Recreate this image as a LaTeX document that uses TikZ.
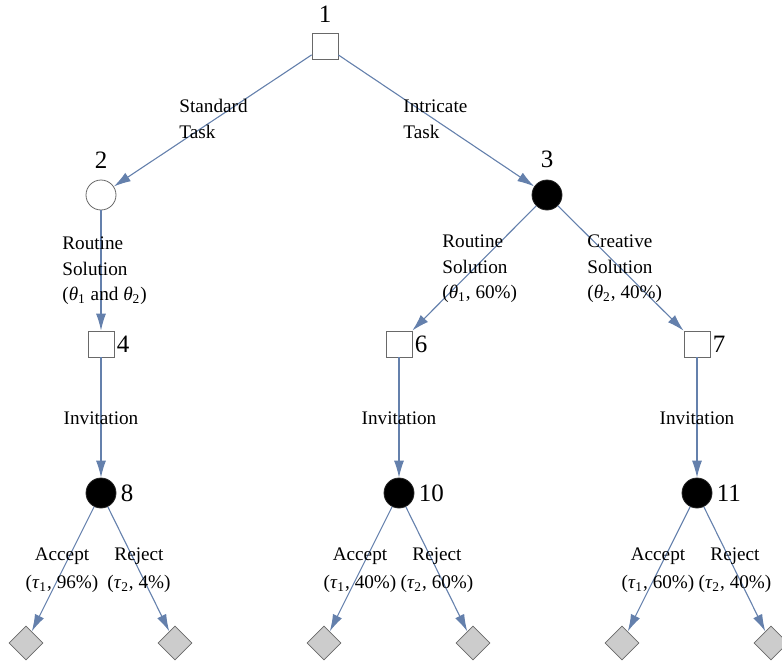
\documentclass[tikz,border=0pt]{standalone}
\usepackage{fontspec}
\setmainfont{Liberation Serif}
\usetikzlibrary{shapes.geometric,arrows.meta,positioning}
\definecolor{edgeblue}{RGB}{100,128,172}
\definecolor{leafgray}{RGB}{204,204,204}
\definecolor{boxgray}{RGB}{105,105,105}
\newcommand{\thsub}[1]{\textit{θ}\textsubscript{#1}}
\newcommand{\tausub}[1]{\textit{τ}\textsubscript{#1}}

\begin{document}
\begin{tikzpicture}[x=0.5pt,y=-0.5pt,
decision/.style={draw=boxgray,fill=white,minimum size=13pt,inner sep=0pt},
chanceopen/.style={circle,draw=boxgray,fill=white,minimum size=15pt,inner sep=0pt},
chance/.style={circle,draw=black!85,fill=black,minimum size=15pt,inner sep=0pt},
leaf/.style={diamond,draw=boxgray,fill=leafgray,minimum size=17pt,inner sep=0pt},
branch/.style={draw=edgeblue,line width=0.55pt,-{Latex[length=8.5pt,width=5pt]}},
num/.style={font=\fontsize{12.5}{14}\selectfont,inner sep=1pt},
lbl/.style={font=\fontsize{9.6}{12.8}\selectfont,align=left,anchor=west,inner sep=0pt},
clbl/.style={font=\fontsize{9.6}{13.8}\selectfont,align=center,inner sep=0pt}
]
\useasboundingbox (0,0) rectangle (782,664);

\node[decision,label={[num,label distance=4pt]above:1}] (n1) at (325,46) {};
\node[chanceopen,label={[num,label distance=4.5pt]above:2}] (n2) at (101,195) {};
\node[chance,label={[num,label distance=4.5pt]above:3}] (n3) at (547,195) {};
\node[decision,label={[num,label distance=0pt]right:4}] (n4) at (101,344) {};
\node[decision,label={[num,label distance=0pt]right:6}] (n6) at (399,344) {};
\node[decision,label={[num,label distance=0pt]right:7}] (n7) at (697,344) {};
\node[chance,label={[num,label distance=1pt]right:8}] (n8) at (101,493) {};
\node[chance,label={[num,label distance=1pt]right:10}] (n10) at (399,493) {};
\node[chance,label={[num,label distance=1pt]right:11}] (n11) at (697,493) {};

\node[leaf] (l1) at (26,643) {};
\node[leaf] (l2) at (175,643) {};
\node[leaf] (l3) at (324,643) {};
\node[leaf] (l4) at (473,643) {};
\node[leaf] (l5) at (622,643) {};
\node[leaf] (l6) at (771,643) {};

\draw[branch] (n1) -- (n2);
\draw[branch] (n1) -- (n3);
\draw[branch] (n2) -- (n4);
\draw[branch] (n3) -- (n6);
\draw[branch] (n3) -- (n7);
\draw[branch] (n4) -- (n8);
\draw[branch] (n6) -- (n10);
\draw[branch] (n7) -- (n11);
\draw[branch] (n8) -- (l1);
\draw[branch] (n8) -- (l2);
\draw[branch] (n10) -- (l3);
\draw[branch] (n10) -- (l4);
\draw[branch] (n11) -- (l5);
\draw[branch] (n11) -- (l6);

\node[lbl] (t12) at (179,119) {Standard\\Task};
\node[lbl] (t13) at (403,119) {Intricate\\Task};
\node[lbl] (t24) at (62,271) {Routine\\Solution\\(\thsub{1} and \thsub{2})};
\node[lbl] (t36) at (442,269) {Routine\\Solution\\(\thsub{1}, 60\%)};
\node[lbl] (t37) at (587,269) {Creative\\Solution\\(\thsub{2}, 40\%)};

\node[clbl] (i4) at (101,418) {Invitation};
\node[clbl] (i6) at (399,418) {Invitation};
\node[clbl] (i7) at (697,418) {Invitation};

\node[clbl] (a8) at (62,570) {Accept\\(\tausub{1}, 96\%)};
\node[clbl] (r8) at (139,570) {Reject\\(\tausub{2}, 4\%)};
\node[clbl] (a10) at (360,570) {Accept\\(\tausub{1}, 40\%)};
\node[clbl] (r10) at (437,570) {Reject\\(\tausub{2}, 60\%)};
\node[clbl] (a11) at (658,570) {Accept\\(\tausub{1}, 60\%)};
\node[clbl] (r11) at (735,570) {Reject\\(\tausub{2}, 40\%)};
\end{tikzpicture}
\end{document}
